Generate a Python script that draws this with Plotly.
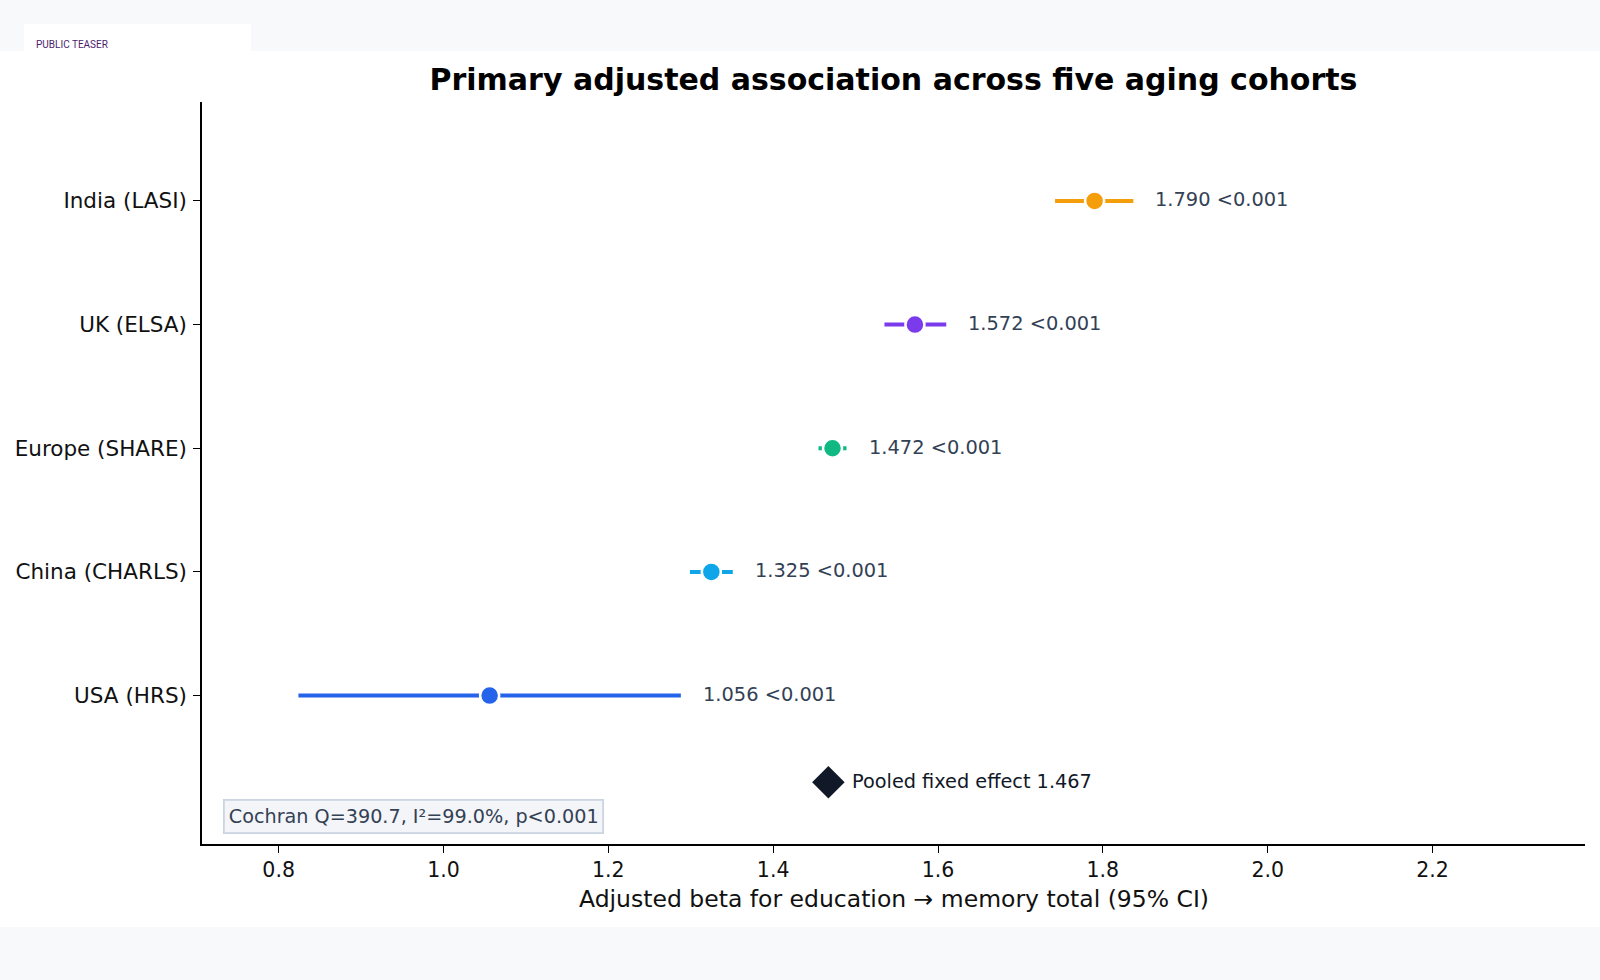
import plotly.graph_objects as go

cohorts = ["USA (HRS)", "China (CHARLS)", "Europe (SHARE)", "UK (ELSA)", "India (LASI)"]
betas = [1.056, 1.325, 1.472, 1.572, 1.790]
ci_lo = [0.824, 1.299, 1.455, 1.535, 1.742]
ci_hi = [1.288, 1.351, 1.489, 1.610, 1.837]
p_labels = ["<0.001", "<0.001", "<0.001", "<0.001", "<0.001"]
colors = ["#2563eb", "#0ea5e9", "#10b981", "#7c3aed", "#f59e0b"]
pooled_beta = 1.467
pooled_label = "Pooled fixed effect"
stats_text = "Cochran Q=390.7, I²=99.0%, p<0.001"
x_ticks = [0.8, 1.0, 1.2, 1.4, 1.6, 1.8, 2.0, 2.2]

W, H = 1600, 980
L, R, T, B = 202, 1585, 102, 844
FONT = "DejaVu Sans"

def px_x(X):
    return (X - L) / (R - L)

def px_y(Y):
    return (B - Y) / (B - T)

fig = go.Figure()

for i, (c, b, lo, hi, col) in enumerate(zip(cohorts, betas, ci_lo, ci_hi, colors)):
    fig.add_trace(go.Scatter(
        x=[b], y=[i], mode="markers",
        marker=dict(size=19, color=col, line=dict(color="white", width=2.5)),
        error_x=dict(type="data", symmetric=False, array=[hi - b], arrayminus=[b - lo],
                     color=col, thickness=4, width=0),
        showlegend=False, hoverinfo="skip",
    ))
    fig.add_annotation(x=hi, y=i, xref="x", yref="y", text=f"{b:.3f} {p_labels[i]}",
                       showarrow=False, xanchor="left", yanchor="middle", xshift=20, yshift=1,
                       font=dict(family=FONT, size=19.4, color="#334155"))

fig.add_trace(go.Scatter(
    x=[pooled_beta], y=[-0.7], mode="markers",
    marker=dict(symbol="diamond", size=25, color="#111827"),
    showlegend=False, hoverinfo="skip",
))
fig.add_annotation(x=pooled_beta, y=-0.7, xref="x", yref="y",
                   text=f"{pooled_label} {pooled_beta:.3f}",
                   showarrow=False, xanchor="left", yanchor="middle", xshift=22, yshift=1,
                   font=dict(family=FONT, size=19.3, color="#111827"))

fig.add_annotation(x=px_x(222.5), y=px_y(833.5), xref="paper", yref="paper",
                   text=stats_text, showarrow=False, xanchor="left", yanchor="bottom",
                   font=dict(family=FONT, size=19.2, color="#334155"),
                   bgcolor="#f3f5f9", bordercolor="#cbd5e1", borderwidth=1.8, borderpad=4)

# axis title
fig.add_annotation(x=0.5, y=px_y(899), xref="paper", yref="paper",
                   text="Adjusted beta for education → memory total (95% CI)",
                   showarrow=False, xanchor="center", yanchor="middle",
                   font=dict(family=FONT, size=23.5, color="#111111"))

# header strip
fig.add_shape(type="rect", xref="paper", yref="paper", layer="below",
              x0=px_x(0), x1=px_x(1600), y0=px_y(927), y1=px_y(51),
              fillcolor="white", line=dict(width=0))
fig.add_shape(type="rect", xref="paper", yref="paper", layer="below",
              x0=px_x(24), x1=px_x(251), y0=px_y(51), y1=px_y(24),
              fillcolor="white", line=dict(width=0))
fig.add_annotation(x=px_x(34), y=px_y(44), xref="paper", yref="paper",
                   text="PUBLIC TEASER", showarrow=False, xanchor="left", yanchor="middle",
                   font=dict(family="Roboto", size=10, color="#4c1d6e"))

fig.update_layout(
    width=W, height=H,
    margin=dict(l=L, r=W - R, t=T, b=H - B),
    paper_bgcolor="#f8f9fb", plot_bgcolor="white",
    title=dict(text="<b>Primary adjusted association across five aging cohorts</b>",
               x=0.5, xref="paper", y=1 - 79.5 / H, yref="container", yanchor="middle",
               font=dict(family=FONT, size=30, color="#000000")),
    font=dict(family=FONT, color="#111111"),
)
fig.update_xaxes(range=[0.707, 2.385], tickvals=x_ticks, ticktext=[f"{v:.1f}" for v in x_ticks],
                 showgrid=False, zeroline=False, showline=True, linecolor="black", linewidth=1.5,
                 ticks="outside", ticklen=7, tickwidth=1.2, tickcolor="black",
                 tickfont=dict(family=FONT, size=20.5, color="#111111"))
fig.update_yaxes(range=[-1.2, 4.8], tickvals=list(range(len(cohorts))), ticktext=cohorts,
                 showgrid=False, zeroline=False, showline=True, linecolor="black", linewidth=1.5,
                 ticks="outside", ticklen=7, tickwidth=1.2, tickcolor="black",
                 ticklabelstandoff=2,
                 tickfont=dict(family=FONT, size=21.5, color="#111111"))

fig.write_html("out.html")
